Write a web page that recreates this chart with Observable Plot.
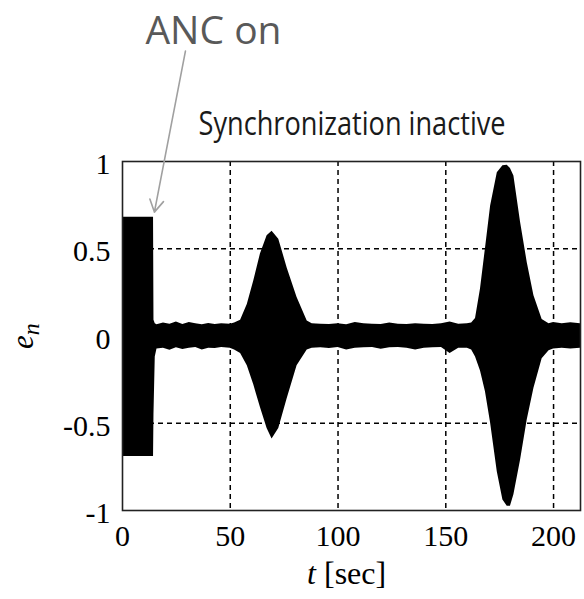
<!DOCTYPE html>
<html>
<head>
<meta charset="utf-8">
<script src="https://cdn.jsdelivr.net/npm/d3@7"></script>
<script src="https://cdn.jsdelivr.net/npm/@observablehq/plot@0.6"></script>
<style>
  html, body { margin: 0; padding: 0; background: #fff; }
</style>
</head>
<body>
<div id="chart"></div>
<script>
// Envelope of the error signal e_n
const tSec = [0, 14.4, 14.6, 15.2, 16, 19, 22, 25, 28, 31, 34, 37, 40, 43, 46, 50, 52,
  54.8, 57.9, 60.9, 64, 67.1, 69.4, 72.5, 76.4, 81, 85.7, 88,
  92, 96, 100, 104, 108, 112, 116, 120, 124, 128, 132, 136, 140, 144, 148, 152, 156, 160,
  162, 163.8, 166.1, 168.4, 170.8, 173.9, 176.5, 178.5, 180, 181.6, 184.7, 187.8, 190.9, 194.7, 197.9,
  200, 204, 208, 212.5];
const upper = [0.68, 0.68, 0.09, 0.07, 0.065, 0.075, 0.068, 0.08, 0.066, 0.078, 0.07, 0.065, 0.072, 0.066, 0.07, 0.068, 0.075,
  0.09, 0.18, 0.315, 0.47, 0.575, 0.6, 0.555, 0.39, 0.22, 0.086, 0.07,
  0.068, 0.066, 0.07, 0.065, 0.078, 0.07, 0.068, 0.066, 0.075, 0.067, 0.066, 0.07, 0.068, 0.066, 0.07, 0.08, 0.068, 0.07,
  0.075, 0.1, 0.27, 0.5, 0.745, 0.936, 0.975, 0.978, 0.96, 0.917, 0.65, 0.42, 0.23, 0.095, 0.07,
  0.078, 0.07, 0.076, 0.07];
const lower = [-0.69, -0.69, -0.45, -0.12, -0.075, -0.07, -0.082, -0.068, -0.078, -0.07, -0.066, -0.08, -0.07, -0.072, -0.066, -0.07, -0.08,
  -0.1, -0.17, -0.28, -0.41, -0.53, -0.59, -0.53, -0.36, -0.17, -0.08, -0.07,
  -0.068, -0.072, -0.066, -0.08, -0.07, -0.068, -0.066, -0.076, -0.068, -0.066, -0.07, -0.08, -0.07, -0.068, -0.066, -0.1, -0.07, -0.07,
  -0.08, -0.12, -0.2, -0.32, -0.5, -0.78, -0.94, -0.975, -0.975, -0.91, -0.71, -0.48, -0.3, -0.13, -0.085,
  -0.075, -0.07, -0.075, -0.07];

const xTicks = [0, 50, 100, 150, 200];
const yTicks = [-1, -0.5, 0, 0.5, 1];
const xGrid = [50, 100, 150, 200];
const yGrid = [-0.5, 0.5];

const env = tSec.map((t, i) => ({t, hi: upper[i], lo: lower[i]}));

const serif = "'Liberation Serif', 'Times New Roman', serif";
const sans = "'Open Sans', 'Noto Sans', sans-serif";

const chart = Plot.plot({
  width: 584,
  height: 599,
  marginLeft: 122,
  marginRight: 4,
  marginTop: 161,
  marginBottom: 89,
  style: {background: "#fff", color: "#000", overflow: "visible"},
  x: {domain: [0, 212.5]},
  y: {domain: [-1, 1]},
  marks: [
    Plot.ruleX(xGrid, {x: d => d, stroke: "#000", strokeWidth: 1.5, strokeDasharray: "5,4"}),
    Plot.ruleY(yGrid, {y: d => d, stroke: "#000", strokeWidth: 1.5, strokeDasharray: "5,4"}),
    Plot.areaY(env, {x: "t", y1: "lo", y2: "hi", fill: "#000", curve: "linear"}),
    Plot.frame({stroke: "#222", strokeWidth: 1.6}),
    Plot.axisX(xTicks, {tickSize: 0, tickPadding: 14, fontSize: 30, fontFamily: serif, tickFormat: d => String(d), label: null}),
    Plot.axisY(yTicks, {tickSize: 0, tickPadding: 12, dy: 3, fontSize: 30, fontFamily: serif, tickFormat: d => String(d), label: null}),
    Plot.arrow([0], {x1: 29.2, y1: 1.633, x2: 14.8, y2: 0.71, stroke: "#a0a0a0", strokeWidth: 1.6, headLength: 13, bend: false}),
    Plot.text(["ANC on"], {x: 42.2, y: 1.747, text: d => d, fontSize: 39, fontFamily: sans, fill: "#595959", textAnchor: "middle"}),
    Plot.text(["Synchronization inactive"], {x: 106.5, y: 1.21, text: d => d, fontSize: 32, fontFamily: sans, fill: "#1a1a1a", textAnchor: "middle"}),
    Plot.text(["t [sec]"], {x: 104, y: -1.36, text: d => d, fontSize: 32, fontFamily: serif, fill: "#000", textAnchor: "middle"}),
    Plot.text(["en"], {x: -46, y: 0, text: d => d, fontSize: 31, fontFamily: serif, fill: "#000", rotate: -90, textAnchor: "middle"})
  ]
});

// Rich text styling (italic variables, subscript, condensed annotation)
chart.querySelectorAll("text").forEach(el => {
  const s = el.textContent;
  if (s === "t [sec]") {
    el.textContent = "";
    const a = document.createElementNS("http://www.w3.org/2000/svg", "tspan");
    a.setAttribute("font-style", "italic");
    a.textContent = "t";
    const b = document.createElementNS("http://www.w3.org/2000/svg", "tspan");
    b.textContent = " [sec]";
    el.append(a, b);
  } else if (s === "en") {
    el.textContent = "";
    const a = document.createElementNS("http://www.w3.org/2000/svg", "tspan");
    a.setAttribute("font-style", "italic");
    a.textContent = "e";
    const b = document.createElementNS("http://www.w3.org/2000/svg", "tspan");
    b.setAttribute("font-style", "italic");
    b.setAttribute("font-size", "24");
    b.setAttribute("dy", "6");
    b.textContent = "n";
    el.append(a, b);
  } else if (s === "Synchronization inactive") {
    el.setAttribute("textLength", "307");
    el.setAttribute("lengthAdjust", "spacingAndGlyphs");
  }
});

document.getElementById("chart").append(chart);
</script>
</body>
</html>
